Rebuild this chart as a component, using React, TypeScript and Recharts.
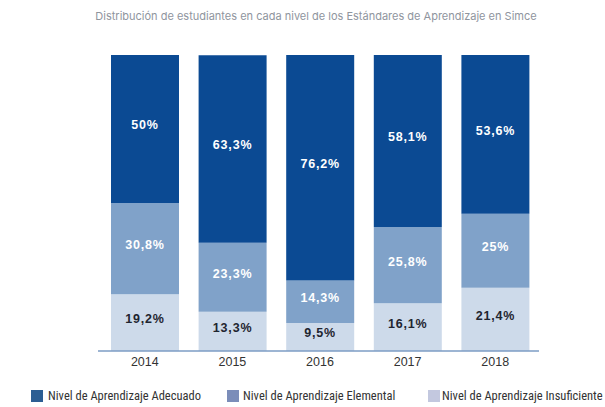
import React from "react";
import { BarChart, Bar, XAxis, YAxis, LabelList } from "recharts";

const years = ["2014", "2015", "2016", "2017", "2018"];
const adecuado = [50, 63.3, 76.2, 58.1, 53.6];
const elemental = [30.8, 23.3, 14.3, 25.8, 25];
const insuficiente = [19.2, 13.3, 9.5, 16.1, 21.4];
const seriesNames = [
  "Nivel de Aprendizaje Adecuado",
  "Nivel de Aprendizaje Elemental",
  "Nivel de Aprendizaje Insuficiente",
];
const title = "Distribución de estudiantes en cada nivel de los Estándares de Aprendizaje en Simce";

const data = years.map((y, i) => ({
  year: y,
  adecuado: adecuado[i],
  elemental: elemental[i],
  insuficiente: insuficiente[i],
}));

const barColors = ["#0b4a93", "#80a2c9", "#cddaea"];
const legendColors = ["#2c5e93", "#7b8db9", "#c3c8df"];
const legendSquareX = [31, 227, 428];
const legendTextX = [48, 243, 442];

const fmt = (v: any) => String(v).replace(".", ",") + "%";

const labelStyle = (fill: string) => ({
  fill,
  fontSize: 12.5,
  fontWeight: 700,
  fontFamily: "Liberation Sans, Arial, sans-serif",
  letterSpacing: 0.8,
});

export default function App() {
  return (
    <div style={{ position: "absolute", left: 0, top: 0, width: 605, height: 407, background: "#fff", overflow: "hidden" }}>
      <div
        style={{
          position: "absolute",
          left: 0,
          width: 632,
          top: 9,
          textAlign: "center",
          fontFamily: "Inter, sans-serif",
          fontSize: 11,
          color: "#8f959e",
          whiteSpace: "nowrap",
        }}
      >
        {title}
      </div>
      <BarChart
        width={605}
        height={407}
        data={data}
        margin={{ top: 55, right: 66, bottom: 36, left: 98 }}
      >
        <XAxis
          dataKey="year"
          height={20}
          tickLine={false}
          padding={{ left: 3, right: 0 }}
          axisLine={{ stroke: "#7d9cc4", strokeWidth: 1.5 }}
          tick={{ fill: "#333", fontSize: 12.5, fontFamily: "Liberation Sans, Arial, sans-serif" }}
          tickMargin={0}
        />
        <YAxis hide domain={[0, 100]} />
        <Bar dataKey="insuficiente" stackId="a" fill={barColors[2]} barSize={68} isAnimationActive={false}>
          <LabelList dataKey="insuficiente" position="center" dy={-4} formatter={fmt} style={labelStyle("#1f2530")} />
        </Bar>
        <Bar dataKey="elemental" stackId="a" fill={barColors[1]} barSize={68} isAnimationActive={false}>
          <LabelList dataKey="elemental" position="center" dy={-4} formatter={fmt} style={labelStyle("#ffffff")} />
        </Bar>
        <Bar dataKey="adecuado" stackId="a" fill={barColors[0]} barSize={68} isAnimationActive={false}>
          <LabelList dataKey="adecuado" position="center" dy={-4} formatter={fmt} style={labelStyle("#ffffff")} />
        </Bar>
      </BarChart>
      {seriesNames.map((n, i) => (
        <React.Fragment key={n}>
          <span
            style={{
              position: "absolute",
              left: legendSquareX[i],
              top: 390,
              width: 12,
              height: 12,
              background: legendColors[i],
            }}
          />
          <span
            style={{
              position: "absolute",
              left: legendTextX[i],
              top: 388,
              lineHeight: "16px",
              fontFamily: "Liberation Sans Narrow, Roboto Condensed, Roboto, sans-serif",
              fontSize: 12.5,
              color: "#333",
              whiteSpace: "nowrap",
            }}
          >
            {n}
          </span>
        </React.Fragment>
      ))}
    </div>
  );
}
